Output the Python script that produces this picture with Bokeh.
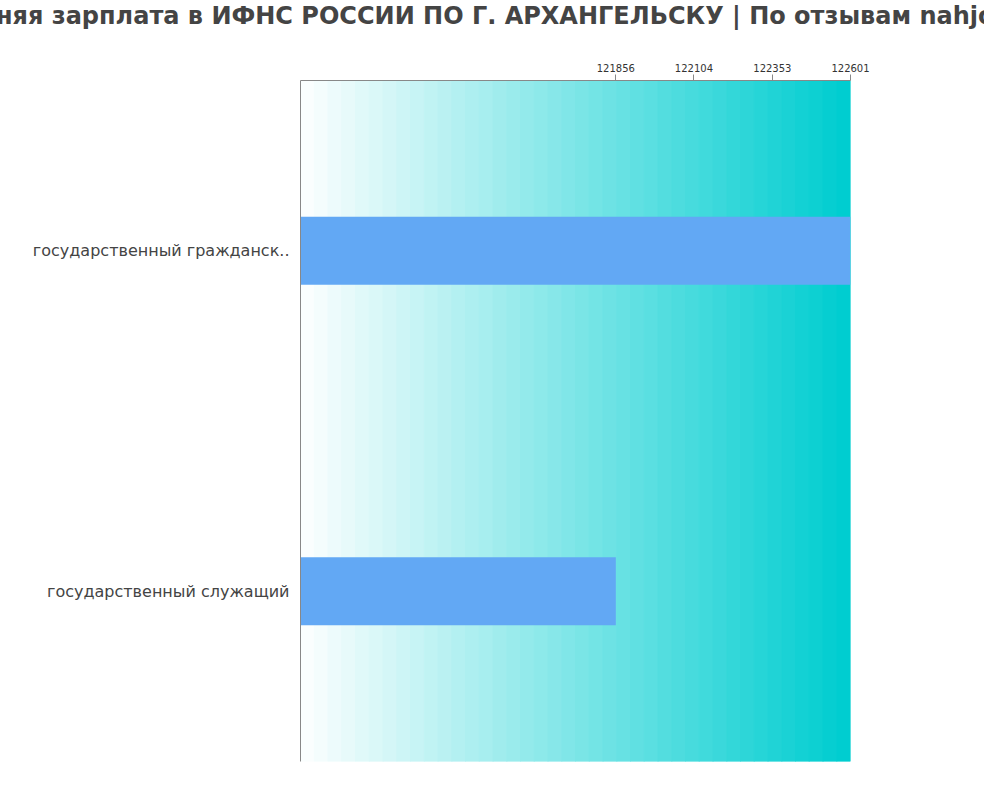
from bokeh.plotting import figure
from bokeh.layouts import column
from bokeh.models import FactorRange, Range1d, FixedTicker, BasicTickFormatter
from bokeh.embed import file_html
from bokeh.resources import INLINE

title_text = "Средняя зарплата в ИФНС РОССИИ ПО Г. АРХАНГЕЛЬСКУ | По отзывам nahjob.com"
categories = ["государственный гражданск..", "государственный служащий"]
salaries = [122601, 121856]
tick_values = [121856, 122104, 122353, 122601]

x_start = 120855
x_end = 122601

W = 984
TITLE_H = 45

# title strip: a tiny figure whose Title overflows and is clipped at the canvas edges like the reference
t = figure(
    width=W, height=TITLE_H,
    x_range=Range1d(0, 1), y_range=Range1d(0, 1),
    output_backend="svg", toolbar_location=None,
    x_axis_type=None, y_axis_type=None,
    min_border=0, min_border_left=300, min_border_right=134,
)
t.outline_line_color = None
t.xgrid.visible = False
t.ygrid.visible = False
t.title.text = title_text
t.title.align = "left"
t.title.offset = -375
t.title.vertical_align = "top"
t.title.standoff = 2
t.title.text_font = "DejaVu Sans"
t.title.text_font_size = "24px"
t.title.text_font_style = "bold"
t.title.text_color = "#444444"

p = figure(
    width=W, height=784 - TITLE_H,
    y_range=FactorRange(factors=list(reversed(categories))),
    x_range=Range1d(x_start, x_end),
    output_backend="svg", toolbar_location=None,
    x_axis_location="above",
    min_border_left=300, min_border_right=134, min_border_top=80 - TITLE_H, min_border_bottom=23,
)
p.y_range.range_padding = 0

# gradient background (decorative), spans the x range
n_steps = 40
c0 = (250, 254, 254)
c1 = (0, 205, 208)
span = x_end - x_start
lefts, rights, cols = [], [], []
for i in range(n_steps):
    f = i / (n_steps - 1)
    r = round(c0[0] + (c1[0] - c0[0]) * f)
    g = round(c0[1] + (c1[1] - c0[1]) * f)
    b = round(c0[2] + (c1[2] - c0[2]) * f)
    lefts.append(x_start + span * i / n_steps)
    rights.append(x_start + span * (i + 1) / n_steps)
    cols.append("#%02x%02x%02x" % (r, g, b))
p.quad(left=lefts, right=rights, bottom=[0] * n_steps, top=[2] * n_steps,
       fill_color=cols, line_color=cols, line_width=1)

p.hbar(y=categories, right=salaries, left=x_start, height=0.2,
       fill_color="#62a8f4", line_color=None)

p.xgrid.visible = False
p.ygrid.visible = False
p.outline_line_color = None
p.background_fill_color = "white"

xa = p.xaxis[0]
xa.ticker = FixedTicker(ticks=tick_values)
xa.formatter = BasicTickFormatter(use_scientific=False)
xa.minor_tick_line_color = None
xa.major_tick_out = 6
xa.major_tick_in = 0
xa.axis_line_color = "#888888"
xa.major_tick_line_color = "#888888"
xa.major_label_text_font = "DejaVu Sans"
xa.major_label_text_font_size = "10px"
xa.major_label_text_color = "#333333"
xa.major_label_standoff = 3

ya = p.yaxis[0]
ya.major_tick_line_color = None
ya.minor_tick_line_color = None
ya.axis_line_color = "#888888"
ya.major_label_text_font = "DejaVu Sans"
ya.major_label_text_font_size = "16px"
ya.major_label_text_color = "#444444"
ya.major_label_standoff = 5

layout = column(t, p, spacing=0)
open("out.html", "w").write(file_html(layout, INLINE))
